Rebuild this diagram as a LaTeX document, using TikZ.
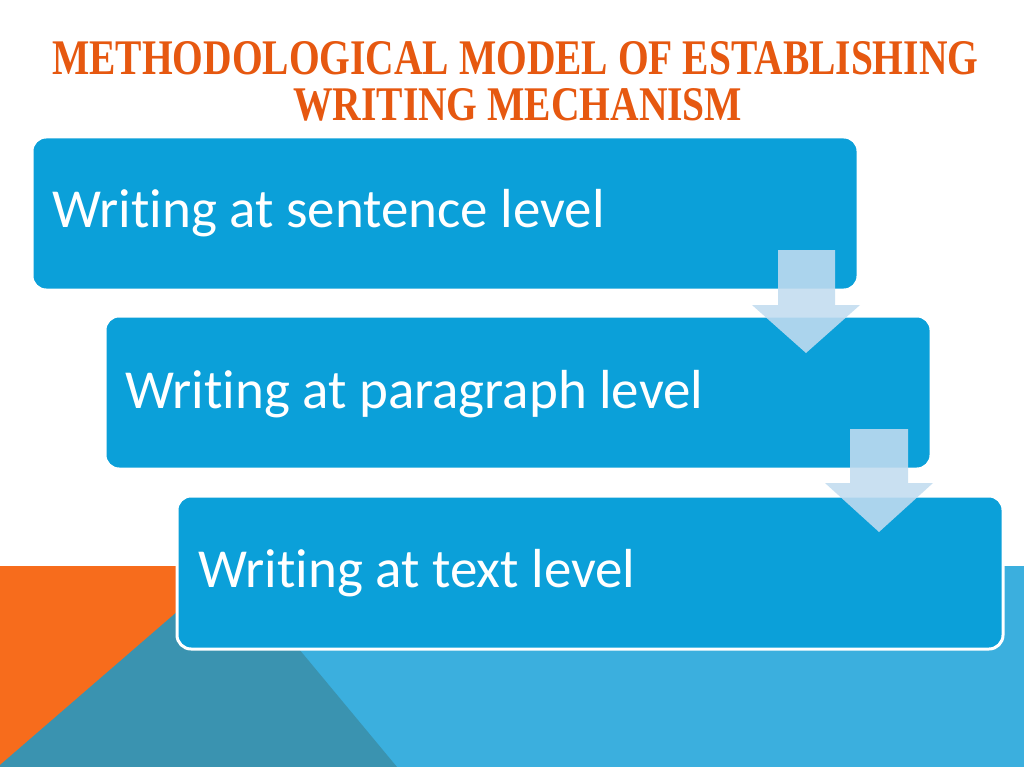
\documentclass[tikz,border=0pt]{standalone}
\usepackage{fontspec}
\setmainfont{Liberation Serif}
\newfontfamily\boxfont[Ligatures=NoCommon]{Carlito}
\usepackage{graphicx}
\definecolor{boxblue}{RGB}{11,160,217}
\definecolor{titleor}{RGB}{230,88,16}
\definecolor{bgorange}{RGB}{247,108,28}
\definecolor{bgteal}{RGB}{58,147,176}
\definecolor{bglight}{RGB}{59,175,222}
\definecolor{arrowc}{RGB}{194,220,240}
\begin{document}
\begin{tikzpicture}[x=1pt,y=-1pt,
  stagebox/.style={draw=white,line width=3pt,fill=boxblue,rounded corners=14pt,
    minimum width=826pt,minimum height=153pt,anchor=north west,inner sep=0pt},
  stagetext/.style={anchor=base west,inner sep=0pt,text=white,font=\boxfont\fontsize{55}{60}\selectfont},
  blockarrow/.style={fill=arrowc,fill opacity=0.88,draw=none}]
\useasboundingbox (0,0) rectangle (1024,767);
\fill[white] (0,0) rectangle (1024,767);
% background
\fill[bgorange] (0,566) rectangle (232,767);
\fill[bglight] (230,566) rectangle (1024,767);
\fill[bgteal] (0,765) -- (230,566) -- (397,767) -- (0,767) -- cycle;
% title
\node[anchor=north west,inner sep=0pt,text=titleor] (title1) at (52,41)
  {\resizebox{926pt}{33pt}{\bfseries METHODOLOGICAL MODEL OF ESTABLISHING}};
\node[anchor=north west,inner sep=0pt,text=titleor] (title2) at (293,88)
  {\resizebox{449pt}{32pt}{\bfseries WRITING MECHANISM}};
% boxes
\node[stagebox] (b1) at (30.5,135.5) {};
\node[stagetext] (t1) at (52,228) {Writing at sentence level};
\node[stagebox] (b2) at (103.5,314.5) {};
\node[stagetext] (t2) at (125,408) {Writing at paragraph level};
\fill[blockarrow] (778,250) -- (835,250) -- (835,305) -- (860,305) -- (806,353) -- (752,305) -- (778,305) -- cycle;
\node[stagebox] (b3) at (175.5,494.5) {};
\node[stagetext] (t3) at (198,587) {Writing at text level};
\fill[blockarrow] (850,429) -- (908,429) -- (908,483) -- (933,483) -- (879,532) -- (825,483) -- (850,483) -- cycle;
\end{tikzpicture}
\end{document}
